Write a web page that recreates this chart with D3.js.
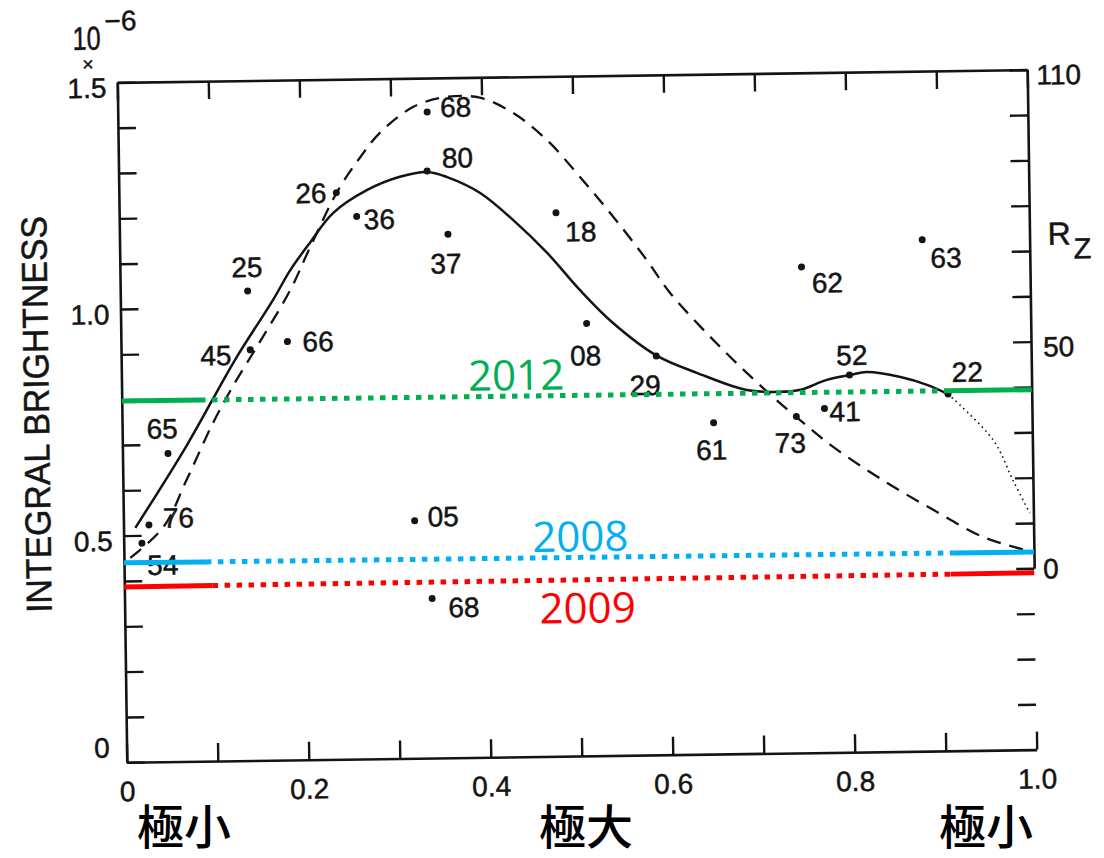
<!DOCTYPE html>
<html>
<head>
<meta charset="utf-8">
<script src="https://cdn.jsdelivr.net/npm/d3@7"></script>
<style>
  html, body { margin: 0; background: #fff; }
</style>
</head>
<body>
<div id="chart"></div>
<script>
// ---- data (x = solar-cycle phase, y = integral brightness x 1e-6) ----
const dotLabels = ['68', '80', '26', '36', '25', '37', '18', '62', '63', '66', '45', '65',
  '76', '54', '08', '29', '61', '05', '73', '41', '52', '22', '68'];
const dotPhase = [0.340, 0.339, 0.239, 0.261, 0.140, 0.361, 0.480, 0.749, 0.882, 0.183, 0.142, 0.050,
  0.028, 0.020, 0.512, 0.588, 0.650, 0.320, 0.741, 0.772, 0.800, 0.908, 0.338];
const dotBright = [1.425, 1.295, 1.250, 1.197, 1.036, 1.155, 1.199, 1.072, 1.128, 0.923, 0.906, 0.680,
  0.523, 0.483, 0.954, 0.880, 0.731, 0.524, 0.742, 0.759, 0.832, 0.787, 0.352];

// solid curve (mean brightness)
const solidCurve = [[0.013, 0.517], [0.071, 0.698], [0.125, 0.884], [0.168, 1.016], [0.187, 1.080],
  [0.209, 1.140], [0.235, 1.205], [0.273, 1.255], [0.309, 1.283], [0.339, 1.293], [0.361, 1.281],
  [0.397, 1.245], [0.433, 1.184], [0.470, 1.110], [0.505, 1.028], [0.541, 0.954], [0.589, 0.880],
  [0.633, 0.841], [0.687, 0.802], [0.723, 0.797], [0.746, 0.801], [0.775, 0.822], [0.801, 0.832],
  [0.819, 0.838], [0.856, 0.826], [0.885, 0.808], [0.908, 0.787]];
// dotted tail of the solid curve
const dottedTail = [[0.908, 0.787], [0.957, 0.684], [0.978, 0.595], [0.996, 0.522]];
// dashed curve (sunspot number, right axis)
const dashedCurve = [[0.007, 0.451], [0.044, 0.518], [0.070, 0.621], [0.100, 0.746], [0.122, 0.825],
  [0.156, 0.934], [0.187, 1.037], [0.209, 1.129], [0.240, 1.252], [0.266, 1.328], [0.288, 1.381],
  [0.325, 1.437], [0.362, 1.458], [0.398, 1.455], [0.434, 1.421], [0.471, 1.360], [0.507, 1.277],
  [0.543, 1.188], [0.579, 1.092], [0.604, 1.019], [0.655, 0.905], [0.707, 0.802], [0.745, 0.734],
  [0.781, 0.674], [0.835, 0.599], [0.890, 0.532], [0.944, 0.471], [0.990, 0.441]];

// coloured year levels (brightness at left and right edge)
const yearNames = ['2012', '2008', '2009'];
const yearLeft = [0.797, 0.440, 0.387];
const yearRight = [0.794, 0.436, 0.390];
const yearColors = ['#00B050', '#00B0F0', '#FF0000'];

// ticks
const xTicks = d3.range(11).map((i) => i / 10);
const xLabels = ['0', '0.2', '0.4', '0.6', '0.8', '1.0'];
const yTicks = d3.range(16).map((i) => i / 10);
const yLabels = ['0', '0.5', '1.0', '1.5'];
const rzTicks = d3.range(-3, 12).map((i) => i * 10);
const rzLabels = ['0', '50', '110'];
const phaseWords = ['極小', '極大', '極小'];

// ---- layout (not data) ----
const labelOffset = [[13, 5], [15, -3], [-41, 10], [7, 13], [-16, -14], [-18, 39], [9, 29], [10, 26],
  [8, 28], [15, 10], [-50, 15], [-21, -15], [14, 3], [5, 32], [-17, 42], [-27, 39], [-18, 37],
  [13, 6], [-22, 36], [5, 13], [-13, -10], [4, -12], [16, 19]];
const yearSolidEnd = [0.086, 0.090, 0.097];
const yearSolidStart = [0.908, 0.912, 0.908];
const yearLabelAt = [0.381, 0.449, 0.456];
const yearLabelDy = [-6, -6, 43];

const W = 1104, H = 858;
const INK = '#141414';
const FONT = '"Liberation Sans", Arial, sans-serif';

const svg = d3.select('#chart').append('svg').attr('width', W).attr('height', H)
  .style('display', 'block').style('background', '#fff');

const x = d3.scaleLinear().domain([0, 1]).range([122, 1032]);
const y = d3.scaleLinear().domain([0, 1.5]).range([756, 76]);
const yR = d3.scaleLinear().domain([0, 110]).range([y(0.4), y(1.5)]);

// the scanned figure is slightly tilted
const g = svg.append('g').attr('transform', 'rotate(-0.8,577,416)');

const inkText = (sel) => sel.attr('fill', INK).attr('font-family', FONT)
  .attr('stroke', INK).attr('stroke-width', 0.5);

const styleAxis = (sel) => {
  sel.select('.domain').attr('stroke', INK).attr('stroke-width', 2.6);
  sel.selectAll('.tick line').attr('stroke', INK).attr('stroke-width', 2.4);
  sel.selectAll('.tick text').call(inkText).attr('font-size', 28);
};

g.append('g').attr('transform', `translate(0,${y(0)})`)
  .call(d3.axisBottom(x).tickValues(xTicks).tickSizeInner(-18).tickSizeOuter(0).tickPadding(19)
    .tickFormat((d) => { const i = [0, 2, 4, 6, 8, 10].indexOf(Math.round(d * 10)); return i < 0 ? '' : xLabels[i]; }))
  .call(styleAxis);

g.append('g').attr('transform', `translate(0,${y(1.5)})`)
  .call(d3.axisTop(x).tickValues(xTicks).tickSizeInner(-18).tickSizeOuter(0).tickFormat(''))
  .call(styleAxis);

const yAx = g.append('g').attr('transform', `translate(${x(0)},0)`)
  .call(d3.axisLeft(y).tickValues(yTicks).tickSizeInner(-18).tickSizeOuter(0).tickPadding(11)
    .tickFormat((d) => { const i = [0, 5, 10, 15].indexOf(Math.round(d * 10)); return i < 0 ? '' : yLabels[i]; }))
  .call(styleAxis);
yAx.selectAll('.tick text').attr('dy', (d) => (d === 0 ? '-0.2em' : '0.52em'))
  .attr('dx', (d) => (d === 0 ? '-6' : '0'));

const rAx = g.append('g').attr('transform', `translate(${x(1)},0)`)
  .call(d3.axisRight(yR).tickValues(rzTicks).tickSizeInner(-18).tickSizeOuter(0).tickPadding(9)
    .tickFormat((d) => { const i = [0, 50, 110].indexOf(d); return i < 0 ? '' : rzLabels[i]; }))
  .call(styleAxis);
rAx.selectAll('.tick text').attr('dy', (d) => (d === 0 ? '0.35em' : '0.52em'))
  .attr('dx', (d) => (d === 50 ? '3' : '0'));

// axis titles and scale factor
g.append('text').attr('transform', `translate(${x(0) - 73},${y(0.77)}) rotate(-90)`)
  .attr('text-anchor', 'middle').attr('font-size', 36).call(inkText)
  .attr('textLength', 397).attr('lengthAdjust', 'spacingAndGlyphs').text('INTEGRAL BRIGHTNESS');
g.append('text').attr('x', x(0) - 44).attr('y', y(1.5) - 33).attr('font-size', 33).call(inkText)
  .attr('textLength', 28).attr('lengthAdjust', 'spacingAndGlyphs').text('10');
g.append('text').attr('x', x(0) - 12).attr('y', y(1.5) - 52).attr('font-size', 28).call(inkText).text('−6');
g.append('text').attr('x', x(0) - 29).attr('y', y(1.5) - 12).attr('text-anchor', 'middle')
  .attr('font-size', 19).call(inkText).text('×');
g.append('text').attr('x', x(1) + 18).attr('y', yR(70) - 6).attr('font-size', 32).call(inkText).text('R');
g.append('text').attr('x', x(1) + 44).attr('y', yR(70) + 8).attr('font-size', 29).call(inkText).text('Z');

// curves
const line = d3.line().x((d) => x(d[0])).y((d) => y(d[1])).curve(d3.curveCatmullRom.alpha(0.5));
g.append('path').attr('d', line(dashedCurve)).attr('fill', 'none').attr('stroke', INK)
  .attr('stroke-width', 2.3).attr('stroke-dasharray', '14 9');
g.append('path').attr('d', line(solidCurve)).attr('fill', 'none').attr('stroke', INK)
  .attr('stroke-width', 2.5);
g.append('path').attr('d', line(dottedTail)).attr('fill', 'none').attr('stroke', INK)
  .attr('stroke-width', 1.6).attr('stroke-dasharray', '1.6 3.6');

// observations
const dots = dotLabels.map((lab, i) => ({ lab, px: dotPhase[i], b: dotBright[i], off: labelOffset[i] }));
g.append('g').selectAll('circle').data(dots).join('circle')
  .attr('cx', (d) => x(d.px)).attr('cy', (d) => y(d.b)).attr('r', 3.5).attr('fill', INK);
g.append('g').selectAll('text').data(dots).join('text')
  .attr('x', (d) => x(d.px) + d.off[0]).attr('y', (d) => y(d.b) + d.off[1])
  .attr('font-size', 28).call(inkText).text((d) => d.lab);

// coloured year levels
const seg = d3.line().x((d) => x(d[0])).y((d) => y(d[1]));
yearNames.forEach((name, i) => {
  const lv = (t) => yearLeft[i] + (yearRight[i] - yearLeft[i]) * t;
  const a = yearSolidEnd[i], b = yearSolidStart[i];
  const c = yearColors[i];
  g.append('path').attr('d', seg([[0, lv(0)], [a, lv(a)]])).attr('stroke', c).attr('stroke-width', 5).attr('fill', 'none');
  g.append('path').attr('d', seg([[a, lv(a)], [b, lv(b)]])).attr('stroke', c).attr('stroke-width', 5)
    .attr('stroke-dasharray', '5.5 6.5').attr('fill', 'none');
  g.append('path').attr('d', seg([[b, lv(b)], [1, lv(1)]])).attr('stroke', c).attr('stroke-width', 5).attr('fill', 'none');
  const t = yearLabelAt[i];
  g.append('text').attr('x', x(t)).attr('y', y(lv(t)) + yearLabelDy[i])
    .attr('font-family', '"Open Sans", sans-serif').attr('font-size', 42).attr('fill', c).text(name);
});

// phase words under the axis
const wordAt = [0, 0.5, 1];
const wordAnchor = ['start', 'middle', 'end'];
const wordDx = [15, 9, 1];
phaseWords.forEach((w, i) => {
  svg.append('text').attr('x', x(wordAt[i]) + wordDx[i]).attr('y', 844)
    .attr('text-anchor', wordAnchor[i]).attr('font-family', '"Noto Sans CJK JP", sans-serif')
    .attr('font-weight', 500).attr('font-size', 47).attr('fill', '#000').text(w);
});
</script>
</body>
</html>
